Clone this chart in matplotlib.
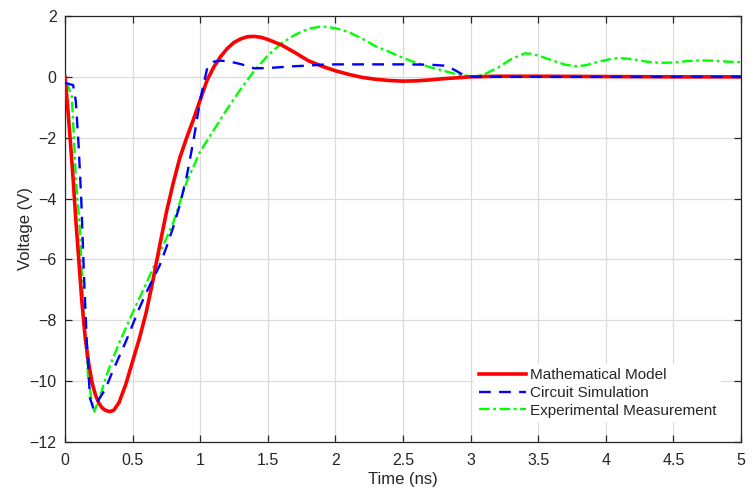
import matplotlib
matplotlib.use("Agg")
import matplotlib.pyplot as plt

plt.rcParams['font.family'] = ['Liberation Sans', 'DejaVu Sans']

# Mathematical Model
t_model = [0, 0.02, 0.04, 0.06, 0.08, 0.1, 0.125, 0.15, 0.175, 0.2, 0.225, 0.25, 0.275,
           0.3, 0.33, 0.36, 0.4, 0.45, 0.5, 0.55, 0.6, 0.65, 0.7, 0.75, 0.8, 0.85, 0.9,
           0.95, 1.0, 1.05, 1.1, 1.15, 1.2, 1.25, 1.3, 1.35, 1.4, 1.45, 1.5, 1.6, 1.7,
           1.8, 1.9, 2.0, 2.1, 2.2, 2.3, 2.4, 2.5, 2.6, 2.7, 2.8, 2.9, 3.0, 3.2, 3.5,
           4.0, 4.5, 5.0]
v_model = [0, -1.0, -2.15, -3.35, -4.7, -5.9, -7.4, -8.6, -9.4, -10.05, -10.45, -10.72,
           -10.88, -10.96, -11.0, -10.96, -10.7, -10.1, -9.35, -8.6, -7.75, -6.7, -5.55,
           -4.45, -3.5, -2.65, -2.0, -1.4, -0.76, -0.12, 0.32, 0.66, 0.93, 1.13, 1.25,
           1.32, 1.33, 1.3, 1.23, 1.05, 0.8, 0.53, 0.35, 0.2, 0.08, -0.02, -0.08, -0.12,
           -0.14, -0.13, -0.1, -0.06, -0.03, 0.0, 0.02, 0.02, 0.01, 0.0, 0.0]

# Circuit Simulation
t_sim = [0, 0.06, 0.08, 0.1, 0.12, 0.14, 0.16, 0.185, 0.21, 0.25, 0.3, 0.35, 0.4, 0.45,
         0.5, 0.55, 0.6, 0.65, 0.7, 0.75, 0.8, 0.85, 0.9, 0.95, 1.0, 1.05, 1.1, 1.15,
         1.2, 1.3, 1.4, 1.5, 1.6, 1.7, 1.8, 1.9, 2.0, 2.5, 2.7, 2.8, 2.85, 2.9, 2.95,
         3.0, 5.0]
v_sim = [-0.2, -0.27, -0.8, -2.2, -4.0, -6.5, -8.6, -10.56, -10.9, -10.6, -10.25, -9.7,
         -9.2, -8.7, -8.15, -7.6, -7.1, -6.65, -6.2, -5.6, -4.95, -4.2, -3.27, -2.1,
         -0.76, 0.25, 0.5, 0.53, 0.52, 0.42, 0.28, 0.29, 0.32, 0.35, 0.37, 0.4, 0.41,
         0.41, 0.4, 0.37, 0.3, 0.18, 0.05, 0.0, 0.0]

# Experimental Measurement
t_exp = [0, 0.025, 0.05, 0.067, 0.081, 0.11, 0.14, 0.17, 0.195, 0.217, 0.26, 0.3, 0.35,
         0.4, 0.5, 0.6, 0.7, 0.8, 0.9, 1.0, 1.1, 1.2, 1.3, 1.4, 1.5, 1.6, 1.7, 1.8, 1.9,
         2.0, 2.1, 2.2, 2.3, 2.4, 2.5, 2.6, 2.7, 2.8, 2.9, 3.0, 3.05, 3.1, 3.2,
         3.3, 3.4, 3.45, 3.5, 3.6, 3.7, 3.78, 3.85, 3.95, 4.05, 4.1, 4.2, 4.3, 4.4,
         4.5, 4.6, 4.7, 4.8, 4.9, 5.0]
v_exp = [-0.2, -0.33, -0.65, -2.07, -3.4, -5.0, -8.0, -9.8, -10.6, -11.0, -10.5, -9.9,
         -9.3, -8.75, -7.75, -6.8, -5.8, -4.8, -3.45, -2.45, -1.75, -1.05, -0.4, 0.2,
         0.7, 1.1, 1.38, 1.58, 1.66, 1.6, 1.47, 1.25, 1.0, 0.82, 0.62, 0.46, 0.32, 0.2,
         0.08, 0.02, 0.03, 0.08, 0.3, 0.58, 0.77, 0.76, 0.7, 0.55, 0.4, 0.35, 0.38,
         0.5, 0.6, 0.62, 0.58, 0.5, 0.46, 0.47, 0.52, 0.54, 0.53, 0.5, 0.48]

labels = ["Mathematical Model", "Circuit Simulation", "Experimental Measurement"]
x_ticks = [0, 0.5, 1, 1.5, 2, 2.5, 3, 3.5, 4, 4.5, 5]
x_ticklabels = ["0", "0.5", "1", "1.5", "2", "2.5", "3", "3.5", "4", "4.5", "5"]
y_ticks = [-12, -10, -8, -6, -4, -2, 0, 2]

fig = plt.figure(figsize=(7.56, 4.97), dpi=100)
ax = fig.add_axes([65/756, 1 - 442/497, (741-65)/756, (442-16)/497])

ax.plot(t_model, v_model, color='#ff0000', lw=2.6, ls='-', label=labels[0], zorder=3)
ax.plot(t_sim, v_sim, color='#0000ff', lw=1.7, ls=(0, (5, 3.5)), label=labels[1], zorder=4)
ax.plot(t_exp, v_exp, color='#00ff00', lw=1.7, ls=(0, (4.5, 1.5, 1.2, 1.5)), label=labels[2], zorder=2)

ax.set_xlim(0, 5)
ax.set_ylim(-12, 2)
ax.set_xticks(x_ticks)
ax.set_xticklabels(x_ticklabels)
ax.set_yticks(y_ticks)
ax.grid(True, color='#dcdcdc', lw=0.9)
ax.set_axisbelow(True)
ax.tick_params(direction='in', length=5, width=0.9, top=True, right=True,
               labelsize=11.5, colors='#262626')
ax.tick_params(axis='x', pad=8)
ax.tick_params(axis='y', pad=6)
for s in ax.spines.values():
    s.set_color('#262626')
    s.set_linewidth(0.9)

ax.set_xlabel("Time (ns)", fontsize=12, color='#262626', labelpad=3)
ax.set_ylabel("Voltage (V)", fontsize=12, color='#262626')
ax.yaxis.set_label_coords(-0.047, 0.5)

leg = ax.legend(loc='lower right', fontsize=11, frameon=True, fancybox=False,
                edgecolor='none', facecolor='white', framealpha=1,
                handlelength=3.1, handletextpad=0.27, labelspacing=0.24,
                borderaxespad=1.3, borderpad=0.3)
for txt in leg.get_texts():
    txt.set_color('#262626')

fig.savefig("out.png", dpi=100)
